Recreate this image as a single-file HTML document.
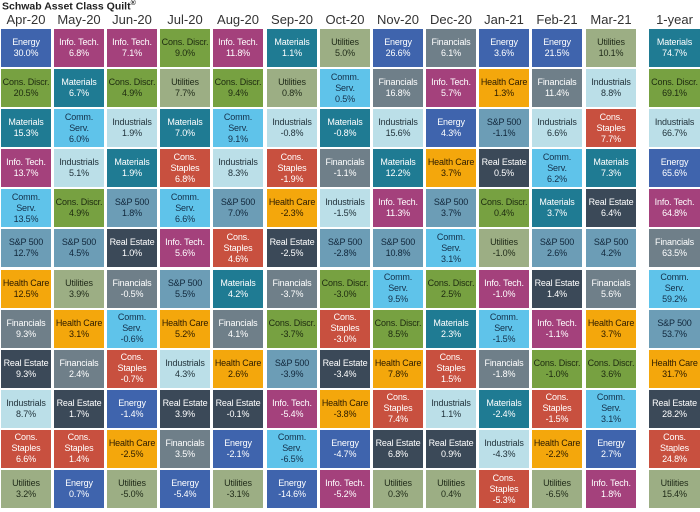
<!DOCTYPE html><html><head><meta charset="utf-8"><style>
body{margin:0;width:700px;height:512px;background:#fff;font-family:"Liberation Sans",Arial,sans-serif;position:relative;overflow:hidden}
.t{position:absolute;left:2px;top:0px;font-size:10.5px;font-weight:bold;color:#222}
.col{position:absolute;top:10px;width:50px}
.h{height:19px;font-size:13px;color:#333;text-align:center;line-height:20px;white-space:nowrap}
.c{height:38px;margin-bottom:2.1px;display:flex;align-items:center;justify-content:center;text-align:center;font-size:9px;line-height:11px;white-space:nowrap;letter-spacing:-0.15px;overflow:hidden}
.EN{background:#3f64ad;color:#fff}.IT{background:#a4417c;color:#fff}.CD{background:#77a141;color:#1d2a10}
.MA{background:#1f7b93;color:#fff}.UT{background:#9cae84;color:#1f2a18}.CS{background:#5fc3ea;color:#14304a}
.IN{background:#bbdfe8;color:#1f3038}.ST{background:#c8503f;color:#fff}.SP{background:#6c9db6;color:#10263a}
.HC{background:#f4a70c;color:#2a1a00}.FI{background:#6f7f89;color:#fff}.RE{background:#3b4958;color:#fff}
</style></head><body>
<div class="t">Schwab Asset Class Quilt<sup style="font-size:7px">®</sup></div>

<div class="col" style="left:1px"><div class="h">Apr-20</div>
<div class="c EN">Energy<br>30.0%</div><div class="c CD">Cons. Discr.<br>20.5%</div><div class="c MA">Materials<br>15.3%</div><div class="c IT">Info. Tech.<br>13.7%</div><div class="c CS">Comm.<br>Serv.<br>13.5%</div><div class="c SP">S&amp;P 500<br>12.7%</div><div class="c HC">Health Care<br>12.5%</div><div class="c FI">Financials<br>9.3%</div><div class="c RE">Real Estate<br>9.3%</div><div class="c IN">Industrials<br>8.7%</div><div class="c ST">Cons.<br>Staples<br>6.6%</div><div class="c UT">Utilities<br>3.2%</div></div>

<div class="col" style="left:54px"><div class="h">May-20</div>
<div class="c IT">Info. Tech.<br>6.8%</div><div class="c MA">Materials<br>6.7%</div><div class="c CS">Comm.<br>Serv.<br>6.0%</div><div class="c IN">Industrials<br>5.1%</div><div class="c CD">Cons. Discr.<br>4.9%</div><div class="c SP">S&amp;P 500<br>4.5%</div><div class="c UT">Utilities<br>3.9%</div><div class="c HC">Health Care<br>3.1%</div><div class="c FI">Financials<br>2.4%</div><div class="c RE">Real Estate<br>1.7%</div><div class="c ST">Cons.<br>Staples<br>1.4%</div><div class="c EN">Energy<br>0.7%</div></div>

<div class="col" style="left:107px"><div class="h">Jun-20</div>
<div class="c IT">Info. Tech.<br>7.1%</div><div class="c CD">Cons. Discr.<br>4.9%</div><div class="c IN">Industrials<br>1.9%</div><div class="c MA">Materials<br>1.9%</div><div class="c SP">S&amp;P 500<br>1.8%</div><div class="c RE">Real Estate<br>1.0%</div><div class="c FI">Financials<br>-0.5%</div><div class="c CS">Comm.<br>Serv.<br>-0.6%</div><div class="c ST">Cons.<br>Staples<br>-0.7%</div><div class="c EN">Energy<br>-1.4%</div><div class="c HC">Health Care<br>-2.5%</div><div class="c UT">Utilities<br>-5.0%</div></div>

<div class="col" style="left:160px"><div class="h">Jul-20</div>
<div class="c CD">Cons. Discr.<br>9.0%</div><div class="c UT">Utilities<br>7.7%</div><div class="c MA">Materials<br>7.0%</div><div class="c ST">Cons.<br>Staples<br>6.8%</div><div class="c CS">Comm.<br>Serv.<br>6.6%</div><div class="c IT">Info. Tech.<br>5.6%</div><div class="c SP">S&amp;P 500<br>5.5%</div><div class="c HC">Health Care<br>5.2%</div><div class="c IN">Industrials<br>4.3%</div><div class="c RE">Real Estate<br>3.9%</div><div class="c FI">Financials<br>3.5%</div><div class="c EN">Energy<br>-5.4%</div></div>

<div class="col" style="left:213px"><div class="h">Aug-20</div>
<div class="c IT">Info. Tech.<br>11.8%</div><div class="c CD">Cons. Discr.<br>9.4%</div><div class="c CS">Comm.<br>Serv.<br>9.1%</div><div class="c IN">Industrials<br>8.3%</div><div class="c SP">S&amp;P 500<br>7.0%</div><div class="c ST">Cons.<br>Staples<br>4.6%</div><div class="c MA">Materials<br>4.2%</div><div class="c FI">Financials<br>4.1%</div><div class="c HC">Health Care<br>2.6%</div><div class="c RE">Real Estate<br>-0.1%</div><div class="c EN">Energy<br>-2.1%</div><div class="c UT">Utilities<br>-3.1%</div></div>

<div class="col" style="left:267px"><div class="h">Sep-20</div>
<div class="c MA">Materials<br>1.1%</div><div class="c UT">Utilities<br>0.8%</div><div class="c IN">Industrials<br>-0.8%</div><div class="c ST">Cons.<br>Staples<br>-1.9%</div><div class="c HC">Health Care<br>-2.3%</div><div class="c RE">Real Estate<br>-2.5%</div><div class="c FI">Financials<br>-3.7%</div><div class="c CD">Cons. Discr.<br>-3.7%</div><div class="c SP">S&amp;P 500<br>-3.9%</div><div class="c IT">Info. Tech.<br>-5.4%</div><div class="c CS">Comm.<br>Serv.<br>-6.5%</div><div class="c EN">Energy<br>-14.6%</div></div>

<div class="col" style="left:320px"><div class="h">Oct-20</div>
<div class="c UT">Utilities<br>5.0%</div><div class="c CS">Comm.<br>Serv.<br>0.5%</div><div class="c MA">Materials<br>-0.8%</div><div class="c FI">Financials<br>-1.1%</div><div class="c IN">Industrials<br>-1.5%</div><div class="c SP">S&amp;P 500<br>-2.8%</div><div class="c CD">Cons. Discr.<br>-3.0%</div><div class="c ST">Cons.<br>Staples<br>-3.0%</div><div class="c RE">Real Estate<br>-3.4%</div><div class="c HC">Health Care<br>-3.8%</div><div class="c EN">Energy<br>-4.7%</div><div class="c IT">Info. Tech.<br>-5.2%</div></div>

<div class="col" style="left:373px"><div class="h">Nov-20</div>
<div class="c EN">Energy<br>26.6%</div><div class="c FI">Financials<br>16.8%</div><div class="c IN">Industrials<br>15.6%</div><div class="c MA">Materials<br>12.2%</div><div class="c IT">Info. Tech.<br>11.3%</div><div class="c SP">S&amp;P 500<br>10.8%</div><div class="c CS">Comm.<br>Serv.<br>9.5%</div><div class="c CD">Cons. Discr.<br>8.5%</div><div class="c HC">Health Care<br>7.8%</div><div class="c ST">Cons.<br>Staples<br>7.4%</div><div class="c RE">Real Estate<br>6.8%</div><div class="c UT">Utilities<br>0.3%</div></div>

<div class="col" style="left:426px"><div class="h">Dec-20</div>
<div class="c FI">Financials<br>6.1%</div><div class="c IT">Info. Tech.<br>5.7%</div><div class="c EN">Energy<br>4.3%</div><div class="c HC">Health Care<br>3.7%</div><div class="c SP">S&amp;P 500<br>3.7%</div><div class="c CS">Comm.<br>Serv.<br>3.1%</div><div class="c CD">Cons. Discr.<br>2.5%</div><div class="c MA">Materials<br>2.3%</div><div class="c ST">Cons.<br>Staples<br>1.5%</div><div class="c IN">Industrials<br>1.1%</div><div class="c RE">Real Estate<br>0.9%</div><div class="c UT">Utilities<br>0.4%</div></div>

<div class="col" style="left:479px"><div class="h">Jan-21</div>
<div class="c EN">Energy<br>3.6%</div><div class="c HC">Health Care<br>1.3%</div><div class="c SP">S&amp;P 500<br>-1.1%</div><div class="c RE">Real Estate<br>0.5%</div><div class="c CD">Cons. Discr.<br>0.4%</div><div class="c UT">Utilities<br>-1.0%</div><div class="c IT">Info. Tech.<br>-1.0%</div><div class="c CS">Comm.<br>Serv.<br>-1.5%</div><div class="c FI">Financials<br>-1.8%</div><div class="c MA">Materials<br>-2.4%</div><div class="c IN">Industrials<br>-4.3%</div><div class="c ST">Cons.<br>Staples<br>-5.3%</div></div>

<div class="col" style="left:532px"><div class="h">Feb-21</div>
<div class="c EN">Energy<br>21.5%</div><div class="c FI">Financials<br>11.4%</div><div class="c IN">Industrials<br>6.6%</div><div class="c CS">Comm.<br>Serv.<br>6.2%</div><div class="c MA">Materials<br>3.7%</div><div class="c SP">S&amp;P 500<br>2.6%</div><div class="c RE">Real Estate<br>1.4%</div><div class="c IT">Info. Tech.<br>-1.1%</div><div class="c CD">Cons. Discr.<br>-1.0%</div><div class="c ST">Cons.<br>Staples<br>-1.5%</div><div class="c HC">Health Care<br>-2.2%</div><div class="c UT">Utilities<br>-6.5%</div></div>

<div class="col" style="left:586px"><div class="h">Mar-21</div>
<div class="c UT">Utilities<br>10.1%</div><div class="c IN">Industrials<br>8.8%</div><div class="c ST">Cons.<br>Staples<br>7.7%</div><div class="c MA">Materials<br>7.3%</div><div class="c RE">Real Estate<br>6.4%</div><div class="c SP">S&amp;P 500<br>4.2%</div><div class="c FI">Financials<br>5.6%</div><div class="c HC">Health Care<br>3.7%</div><div class="c CD">Cons. Discr.<br>3.6%</div><div class="c CS">Comm.<br>Serv.<br>3.1%</div><div class="c EN">Energy<br>2.7%</div><div class="c IT">Info. Tech.<br>1.8%</div></div>

<div class="col" style="left:649px;width:51px"><div class="h">1-year</div>
<div class="c MA">Materials<br>74.7%</div><div class="c CD">Cons. Discr.<br>69.1%</div><div class="c IN">Industrials<br>66.7%</div><div class="c EN">Energy<br>65.6%</div><div class="c IT">Info. Tech.<br>64.8%</div><div class="c FI">Financials<br>63.5%</div><div class="c CS">Comm.<br>Serv.<br>59.2%</div><div class="c SP">S&amp;P 500<br>53.7%</div><div class="c HC">Health Care<br>31.7%</div><div class="c RE">Real Estate<br>28.2%</div><div class="c ST">Cons.<br>Staples<br>24.8%</div><div class="c UT">Utilities<br>15.4%</div></div>
</body></html>
